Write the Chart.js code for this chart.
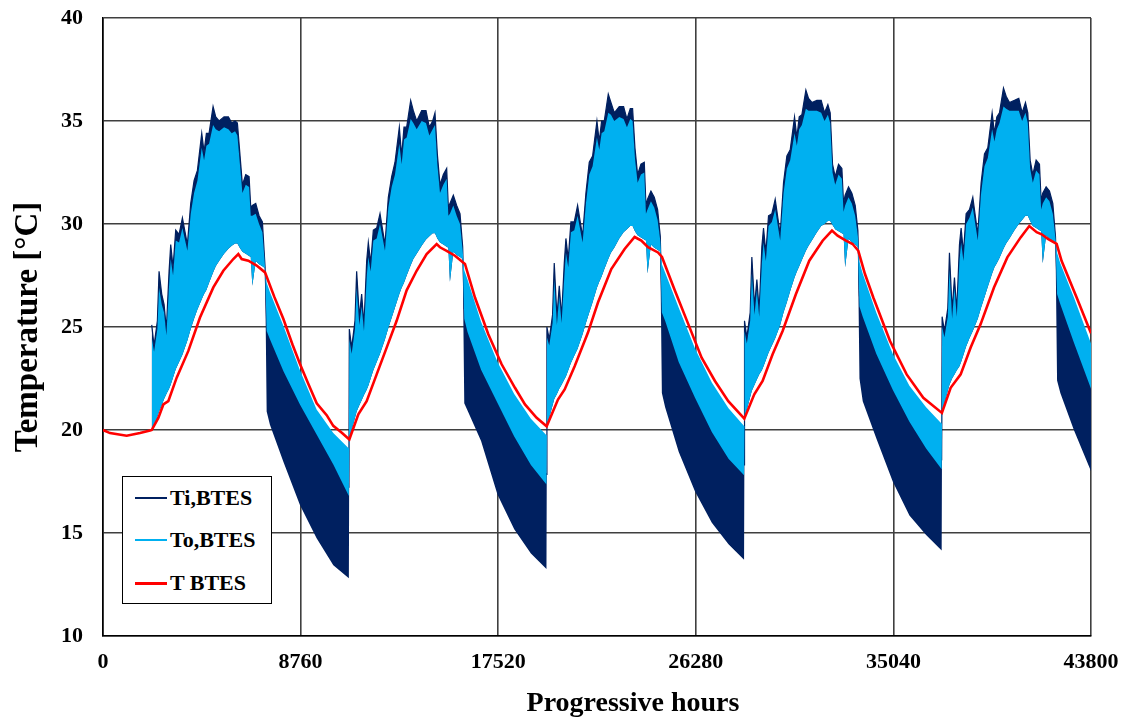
<!DOCTYPE html>
<html lang="en">
<head>
    <meta charset="UTF-8">
    <title>BTES temperatures over five years</title>
    <script src="https://cdn.jsdelivr.net/npm/chart.js"></script>
    <style>
        body {
            margin: 0;
            background: #fff;
            font-family: "Liberation Serif", "Times New Roman", serif;
        }
        .wrap {
            position: relative;
            width: 1128px;
            height: 718px;
        }
        #legend {
            position: absolute;
            left: 122px;
            top: 476px;
            width: 148px;
            height: 126px;
            border: 1px solid #000;
            background: #fff;
        }
        #legend .item {
            position: absolute;
            left: 12px;
            height: 26px;
            display: flex;
            align-items: center;
            font-weight: bold;
            font-size: 22px;
            white-space: nowrap;
        }
        #legend .swatch {
            width: 32px;
            margin-right: 3px;
        }
        .x-title {
            position: absolute;
            left: 633px;
            top: 702px;
            transform: translate(-50%, -50%);
            font-weight: bold;
            font-size: 28px;
            white-space: nowrap;
        }
    </style>
</head>
<body>
<div class="wrap">
    <canvas id="btesChart" width="1128" height="718"></canvas>
    <div id="legend"></div>
    <div class="x-title">Progressive hours</div>
</div>

<script>
    // ---- data ----
    const seriesNames = ['Ti,BTES', 'To,BTES', 'T BTES'];
    const xTicks = [0, 8760, 17520, 26280, 35040, 43800];
    const yTicks = [10, 15, 20, 25, 30, 35, 40];

    // hours where the Ti / To envelopes were read (charge season then discharge season, per year)
    const bandHours = [
        2160, 2263, 2411, 2485, 2603, 2707, 2810, 2929, 3002, 3106, 3224, 3372, 3520, 3741, 3889, 4037, 4185, 4377, 4480, 4584,
        4702, 4880, 4998, 5146, 5367, 5559, 5707, 5855, 5958, 6062, 6180, 6328, 6476, 6550, 6620, 6771, 6919, 7067, 7185,
        7255, 7400, 8000, 8730, 9470, 10210, 10900,
        10920, 11023, 11171, 11245, 11363, 11467, 11570, 11689, 11762, 11866, 11984, 12132, 12280, 12501, 12649, 12797, 12945, 13137, 13240, 13344,
        13462, 13640, 13758, 13906, 14127, 14319, 14467, 14615, 14718, 14822, 14940, 15088, 15236, 15310, 15380, 15531, 15679, 15827, 15945,
        16015, 16160, 16760, 17490, 18230, 18970, 19660,
        19680, 19783, 19931, 20005, 20123, 20227, 20330, 20449, 20522, 20626, 20744, 20892, 21040, 21261, 21409, 21557, 21705, 21897, 22000, 22104,
        22222, 22400, 22518, 22666, 22887, 23079, 23227, 23375, 23478, 23582, 23700, 23848, 23996, 24070, 24140, 24291, 24439, 24587, 24705,
        24775, 24920, 25520, 26250, 26990, 27730, 28420,
        28440, 28543, 28691, 28765, 28883, 28987, 29090, 29209, 29282, 29386, 29504, 29652, 29800, 30021, 30169, 30317, 30465, 30657, 30760, 30864,
        30982, 31160, 31278, 31426, 31647, 31839, 31987, 32135, 32238, 32342, 32460, 32608, 32756, 32830, 32900, 33051, 33199, 33347, 33465,
        33535, 33680, 34280, 35010, 35750, 36490, 37180,
        37200, 37303, 37451, 37525, 37643, 37747, 37850, 37969, 38042, 38146, 38264, 38412, 38560, 38781, 38929, 39077, 39225, 39417, 39520, 39624,
        39742, 39920, 40038, 40186, 40407, 40599, 40747, 40895, 40998, 41102, 41220, 41368, 41516, 41590, 41660, 41811, 41959, 42107, 42225,
        42295, 42440, 43040, 43800
    ];

    // Ti,BTES upper envelope (spikes in summer, hidden under To in winter)
    const tiMax = [
        25.1, 24.1, 25.3, 27.7, 26.6, 26.1, 24.9, 27.7, 29.0, 27.9, 29.7, 29.5, 30.3, 29.0, 31.0, 32.1, 32.6, 34.4, 33.5, 34.4,
        34.4, 35.7, 35.2, 35.0, 35.2, 35.2, 34.9, 35.0, 34.9, 33.5, 31.9, 32.4, 32.3, 30.8, 30.9, 31.0, 30.4, 30.1, 27.9,
        25.3, 24.9, 23.35, 21.7, 20.3, 18.8, 17.3,
        24.9, 24.0, 25.3, 27.7, 25.5, 26.6, 25.1, 28.2, 29.1, 28.1, 29.7, 29.8, 30.5, 29.0, 31.3, 32.3, 33.0, 34.7, 33.3, 34.7,
        34.7, 36.0, 35.5, 35.0, 35.5, 35.5, 34.7, 35.0, 35.4, 33.4, 31.9, 32.4, 32.7, 30.8, 31.0, 31.4, 30.9, 30.5, 28.9,
        25.9, 25.25, 23.4, 21.8, 20.15, 18.8, 17.85,
        25.0, 24.4, 25.6, 28.1, 25.5, 27.0, 25.5, 28.1, 29.3, 28.3, 30.1, 30.1, 30.9, 29.4, 31.5, 33.0, 33.3, 35.0, 34.0, 35.0,
        35.0, 36.3, 35.9, 35.4, 35.7, 35.7, 35.1, 35.6, 35.6, 33.7, 32.4, 32.9, 33.0, 30.9, 31.2, 31.6, 31.3, 30.7, 29.4,
        26.2, 25.8, 23.8, 22.05, 20.4, 19.1, 18.3,
        25.3, 24.5, 25.7, 28.4, 26.0, 27.3, 25.8, 28.9, 29.8, 28.6, 30.4, 30.5, 31.2, 29.5, 32.0, 33.3, 33.6, 35.2, 34.2, 35.2,
        35.3, 36.5, 36.1, 35.9, 36.0, 36.0, 35.4, 35.8, 35.4, 32.9, 32.3, 32.9, 32.7, 31.0, 31.4, 31.8, 31.5, 30.9, 29.7,
        26.5, 26.0, 24.2, 22.45, 20.9, 19.6, 18.6,
        25.5, 24.8, 25.9, 28.6, 25.8, 27.4, 25.8, 29.0, 29.8, 28.6, 30.5, 30.7, 31.3, 29.5, 32.0, 33.4, 33.7, 35.4, 34.4, 35.2,
        35.4, 36.6, 36.2, 35.9, 36.0, 36.1, 35.4, 35.9, 35.4, 33.1, 32.4, 33.1, 32.9, 31.1, 31.5, 31.8, 31.6, 31.0, 29.4,
        27.1, 26.6, 24.75, 22.5
    ];

    // Ti,BTES lower envelope (hidden under To in summer, dark band in winter)
    const tiMin = [
        20.05, 20.2, 20.65, 20.9, 21.2, 21.5, 21.75, 22.0, 22.2, 22.55, 22.95, 23.3, 23.65, 24.35, 24.9, 25.4, 25.85, 26.35, 26.6, 26.8,
        27.15, 27.65, 27.95, 28.2, 28.55, 28.8, 28.95, 29.05, 29.05, 28.85, 28.65, 28.55, 28.45, 28.4, 27.0, 28.2, 28.05, 27.95, 27.85,
        20.9, 20.26, 18.45, 16.36, 14.74, 13.44, 12.8,
        19.6, 20.0, 20.6, 20.9, 21.2, 21.45, 21.7, 21.95, 22.15, 22.5, 22.9, 23.3, 23.7, 24.4, 24.95, 25.45, 25.95, 26.6, 26.9, 27.15,
        27.5, 28.0, 28.3, 28.55, 28.95, 29.25, 29.4, 29.55, 29.55, 29.3, 29.1, 29.0, 28.9, 28.85, 27.2, 28.65, 28.5, 28.4, 28.3,
        21.3, 20.95, 19.47, 16.86, 15.18, 14.0, 13.25,
        20.2, 20.6, 21.2, 21.5, 21.75, 22.0, 22.2, 22.45, 22.6, 22.9, 23.25, 23.6, 23.95, 24.65, 25.2, 25.7, 26.2, 26.9, 27.2, 27.45,
        27.8, 28.3, 28.6, 28.85, 29.3, 29.6, 29.75, 29.9, 29.9, 29.65, 29.45, 29.35, 29.25, 29.2, 27.6, 29.0, 28.85, 28.75, 28.65,
        21.8, 21.1, 18.95, 17.0, 15.5, 14.45, 13.7,
        20.55, 21.0, 21.6, 21.9, 22.2, 22.45, 22.7, 22.9, 23.1, 23.4, 23.75, 24.1, 24.45, 25.1, 25.7, 26.2, 26.75, 27.4, 27.7, 27.95,
        28.25, 28.7, 28.95, 29.2, 29.6, 29.9, 30.0, 30.15, 30.15, 29.95, 29.75, 29.65, 29.55, 29.5, 27.9, 29.3, 29.1, 29.0, 28.9,
        22.5, 21.4, 19.6, 17.5, 15.85, 14.9, 14.15,
        20.9, 21.3, 21.9, 22.2, 22.5, 22.7, 22.9, 23.1, 23.3, 23.65, 24.05, 24.45, 24.8, 25.4, 25.95, 26.45, 26.95, 27.6, 27.9, 28.1,
        28.35, 28.8, 29.05, 29.3, 29.7, 30.0, 30.2, 30.4, 30.4, 30.15, 29.9, 29.8, 29.7, 29.65, 28.1, 29.45, 29.3, 29.2, 29.1,
        22.4, 21.8, 20.0, 18.0
    ];

    // To,BTES upper envelope
    const toMax = [
        24.5, 23.8, 24.9, 26.9, 26.1, 25.7, 24.6, 27.0, 28.3, 27.5, 29.2, 29.1, 29.8, 28.7, 30.5, 31.5, 32.1, 33.7, 33.1, 33.8,
        33.9, 34.8, 34.6, 34.5, 34.7, 34.6, 34.4, 34.5, 34.3, 33.0, 31.5, 31.9, 31.8, 30.4, 30.4, 30.5, 30.0, 29.6, 27.9,
        27.15, 26.7, 25.05, 22.9, 21.0, 19.85, 19.1,
        24.4, 23.7, 24.9, 26.9, 25.1, 26.0, 24.8, 27.4, 28.4, 27.7, 29.2, 29.3, 30.0, 28.7, 30.8, 31.8, 32.4, 33.9, 32.9, 34.1,
        34.2, 35.1, 34.9, 34.6, 35.0, 34.9, 34.3, 34.6, 34.8, 32.9, 31.5, 31.9, 32.2, 30.4, 30.5, 30.9, 30.4, 30.0, 28.7,
        27.75, 27.3, 25.25, 23.3, 21.75, 20.55, 19.75,
        24.5, 24.1, 25.2, 27.3, 25.1, 26.5, 25.2, 27.4, 28.6, 27.9, 29.6, 29.7, 30.4, 29.1, 31.0, 32.4, 32.8, 34.2, 33.6, 34.4,
        34.5, 35.4, 35.3, 35.0, 35.2, 35.1, 34.7, 35.1, 35.0, 33.2, 32.0, 32.4, 32.5, 30.5, 30.7, 31.1, 30.8, 30.2, 29.2,
        28.05, 27.65, 25.95, 23.95, 22.3, 21.05, 20.2,
        24.8, 24.2, 25.3, 27.6, 25.6, 26.8, 25.5, 28.1, 29.1, 28.2, 29.9, 30.1, 30.7, 29.2, 31.5, 32.7, 33.1, 34.4, 33.8, 34.6,
        34.8, 35.6, 35.5, 35.5, 35.5, 35.4, 35.0, 35.3, 34.9, 32.5, 31.9, 32.4, 32.2, 30.6, 30.9, 31.3, 31.0, 30.4, 29.4,
        28.15, 27.6, 25.7, 23.7, 22.15, 21.1, 20.3,
        25.0, 24.5, 25.5, 27.8, 25.4, 26.9, 25.5, 28.2, 29.1, 28.2, 30.0, 30.3, 30.8, 29.2, 31.5, 32.8, 33.2, 34.6, 34.0, 34.6,
        34.9, 35.7, 35.6, 35.5, 35.5, 35.5, 35.0, 35.4, 34.9, 32.7, 32.0, 32.6, 32.4, 30.7, 31.0, 31.3, 31.1, 30.5, 29.3,
        28.6, 28.1, 26.45, 24.2
    ];

    // To,BTES lower envelope
    const toMin = [
        20.05, 20.2, 20.65, 20.9, 21.2, 21.5, 21.75, 22.0, 22.2, 22.55, 22.95, 23.3, 23.65, 24.35, 24.9, 25.4, 25.85, 26.35, 26.6, 26.8,
        27.15, 27.65, 27.95, 28.2, 28.55, 28.8, 28.95, 29.05, 29.05, 28.85, 28.65, 28.55, 28.45, 28.4, 27.0, 28.2, 28.05, 27.95, 27.85,
        24.81, 24.4, 22.85, 21.24, 19.78, 18.32, 16.8,
        19.6, 20.0, 20.6, 20.9, 21.2, 21.45, 21.7, 21.95, 22.15, 22.5, 22.9, 23.3, 23.7, 24.4, 24.95, 25.45, 25.95, 26.6, 26.9, 27.15,
        27.5, 28.0, 28.3, 28.55, 28.95, 29.25, 29.4, 29.55, 29.55, 29.3, 29.1, 29.0, 28.9, 28.85, 27.2, 28.65, 28.5, 28.4, 28.3,
        25.4, 24.76, 22.92, 21.31, 19.68, 18.3, 17.35,
        20.2, 20.6, 21.2, 21.5, 21.75, 22.0, 22.2, 22.45, 22.6, 22.9, 23.25, 23.6, 23.95, 24.65, 25.2, 25.7, 26.2, 26.9, 27.2, 27.45,
        27.8, 28.3, 28.6, 28.85, 29.3, 29.6, 29.75, 29.9, 29.9, 29.65, 29.45, 29.35, 29.25, 29.2, 27.6, 29.0, 28.85, 28.75, 28.65,
        25.7, 25.3, 23.3, 21.55, 19.9, 18.6, 17.8,
        20.55, 21.0, 21.6, 21.9, 22.2, 22.45, 22.7, 22.9, 23.1, 23.4, 23.75, 24.1, 24.45, 25.1, 25.7, 26.2, 26.75, 27.4, 27.7, 27.95,
        28.25, 28.7, 28.95, 29.2, 29.6, 29.9, 30.0, 30.15, 30.15, 29.95, 29.75, 29.65, 29.55, 29.5, 27.9, 29.3, 29.1, 29.0, 28.9,
        26.0, 25.5, 23.7, 21.95, 20.4, 19.1, 18.1,
        20.9, 21.3, 21.9, 22.2, 22.5, 22.7, 22.9, 23.1, 23.3, 23.65, 24.05, 24.45, 24.8, 25.4, 25.95, 26.45, 26.95, 27.6, 27.9, 28.1,
        28.35, 28.8, 29.05, 29.3, 29.7, 30.0, 30.2, 30.4, 30.4, 30.15, 29.9, 29.8, 29.7, 29.65, 28.1, 29.45, 29.3, 29.2, 29.1,
        26.6, 26.1, 24.25, 22.0
    ];

    // T BTES (storage temperature)
    const tHours = [
        0, 310, 1049, 1640, 2083, 2160, 2453, 2675, 2896, 3266, 3783, 4300, 4891, 5334, 5777, 5999, 6147, 6443, 6812, 7182,
        7600, 7993, 8400, 8733, 9100, 9474, 9916, 10209, 10600, 10920,
        11319, 11688, 12132, 12575, 13018, 13461, 13904, 14348, 14791, 14939, 15234, 15604, 16047, 16490, 17081, 17672, 18263, 18707, 19224, 19668,
        20170, 20466, 20909, 21500, 21943, 22534, 23125, 23568, 23864, 24160, 24603, 24780, 25356, 25947, 26538, 27129, 27720, 28430,
        28873, 29242, 29686, 30129, 30720, 31311, 31902, 32316, 32567, 32936, 33232, 33485, 33780, 34150, 34889, 35627, 36366, 37190,
        37578, 38022, 38465, 38908, 39499, 40090, 40681, 41064, 41390, 41612, 41907, 42277, 42499, 43164, 43800
    ];
    const tBtes = [
        20.0, 19.85, 19.72, 19.85, 19.97, 20.0, 20.59, 21.24, 21.4, 22.54, 23.84, 25.46, 26.92, 27.73, 28.3, 28.54, 28.3, 28.22, 27.98, 27.65,
        26.45, 25.4, 24.15, 23.2, 22.25, 21.3, 20.72, 20.2, 19.85, 19.54,
        20.76, 21.4, 22.7, 24.0, 25.3, 26.78, 27.73, 28.54, 29.03, 28.87, 28.7, 28.46, 28.06, 26.43, 24.65, 23.19, 22.05, 21.24, 20.59, 20.18,
        21.48, 21.97, 23.1, 24.73, 26.19, 27.81, 28.79, 29.37, 29.2, 28.87, 28.62, 28.4, 26.76, 25.14, 23.51, 22.38, 21.4, 20.55,
        21.73, 22.38, 23.68, 24.81, 26.6, 28.22, 29.19, 29.68, 29.43, 29.19, 29.03, 28.7, 27.57, 26.43, 24.32, 22.7, 21.56, 20.83,
        22.05, 22.7, 24.0, 25.14, 26.92, 28.38, 29.35, 29.9, 29.6, 29.5, 29.27, 29.03, 28.2, 26.43, 24.7
    ];

    // ---- drawing ----
    const NAVY = '#002060';
    const SKY = '#00b0f0';
    const RED = '#ff0000';
    const gridColor = '#3f3f3f';
    const serif = 'Liberation Serif, Times New Roman, serif';

    function points(xs, ys) {
        return xs.map((x, i) => ({ x: x, y: ys[i] }));
    }

    const datasets = [
        { label: 'Ti min', data: points(bandHours, tiMin), borderWidth: 0, fill: false, order: 2 },
        { label: seriesNames[0], data: points(bandHours, tiMax), borderColor: NAVY, borderWidth: 1.2,
          backgroundColor: NAVY, fill: '-1', order: 2 },
        { label: 'To min', data: points(bandHours, toMin), borderWidth: 0, fill: false, order: 1 },
        { label: seriesNames[1], data: points(bandHours, toMax), borderColor: SKY, borderWidth: 0,
          backgroundColor: SKY, fill: '-1', order: 1 },
        { label: seriesNames[2], data: points(tHours, tBtes), borderColor: RED, borderWidth: 2.6,
          fill: false, order: 0 }
    ];

    const tickFont = { family: serif, size: 22, weight: 'bold' };

    new Chart(document.getElementById('btesChart').getContext('2d'), {
        type: 'line',
        data: { datasets: datasets },
        options: {
            responsive: false,
            animation: false,
            layout: { padding: { top: 18, right: 37, left: 0, bottom: 0 } },
            elements: { point: { radius: 0 }, line: { tension: 0 } },
            plugins: { legend: { display: false }, tooltip: { enabled: false } },
            scales: {
                x: {
                    type: 'linear',
                    min: xTicks[0],
                    max: xTicks[xTicks.length - 1],
                    afterBuildTicks: s => { s.ticks = xTicks.map(v => ({ value: v })); },
                    afterFit: s => { s.height = 82; s.paddingLeft = 0; s.paddingRight = 0; },
                    grid: { color: gridColor, lineWidth: 1.6, drawTicks: false },
                    border: { color: '#000', width: 1.6 },
                    ticks: { padding: 13, color: '#000', font: tickFont, maxRotation: 0, autoSkip: false,
                             callback: v => String(v) }
                },
                y: {
                    min: yTicks[0],
                    max: yTicks[yTicks.length - 1],
                    afterBuildTicks: s => { s.ticks = yTicks.map(v => ({ value: v })); },
                    afterFit: s => { s.width = 103; s.paddingTop = 0; s.paddingBottom = 0; },
                    grid: { color: gridColor, lineWidth: 1.6, drawTicks: false },
                    border: { color: '#000', width: 1.6 },
                    ticks: { padding: 20, color: '#000', font: tickFont, callback: v => String(v) },
                    title: { display: true, text: 'Temperature [°C]', color: '#000',
                             font: { family: serif, size: 33, weight: 'bold' }, padding: { top: 9, bottom: 0 } }
                }
            }
        }
    });

    // legend box inside the plot, built from the series
    const legendStyles = [
        { color: NAVY, width: 2 },
        { color: SKY, width: 2.5 },
        { color: RED, width: 3 }
    ];
    const legendTops = [8, 50, 93];
    const legend = document.getElementById('legend');
    seriesNames.forEach((name, i) => {
        const item = document.createElement('div');
        item.className = 'item';
        item.style.top = legendTops[i] + 'px';
        const sw = document.createElement('span');
        sw.className = 'swatch';
        sw.style.borderTop = legendStyles[i].width + 'px solid ' + legendStyles[i].color;
        const label = document.createElement('span');
        label.textContent = name;
        item.appendChild(sw);
        item.appendChild(label);
        legend.appendChild(item);
    });
</script>
</body>
</html>
